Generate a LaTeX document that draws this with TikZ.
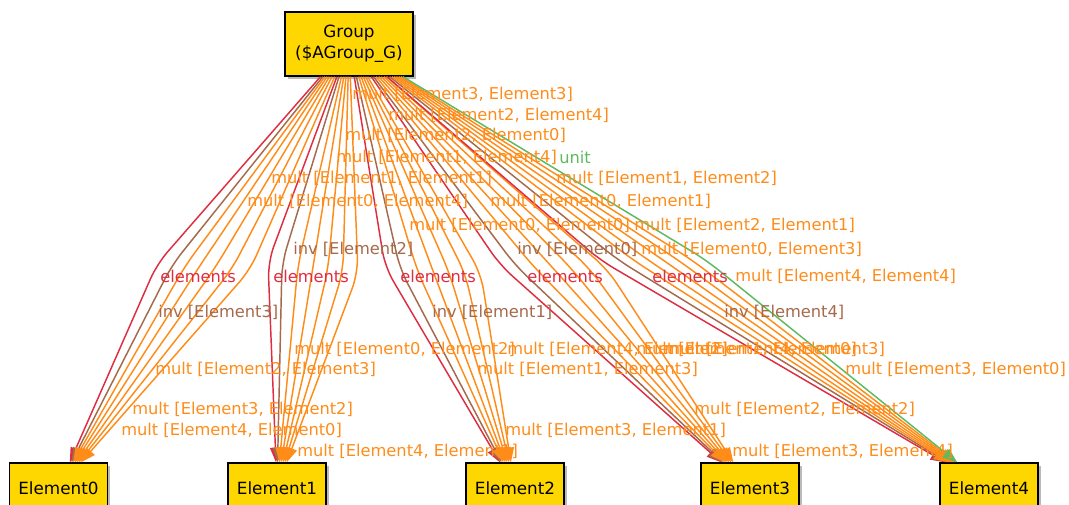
\documentclass[tikz,border=0pt]{standalone}
\usepackage{fontspec}
\setmainfont{DejaVu Sans}
\usetikzlibrary{arrows.meta,shadows}

\definecolor{nodegold}{RGB}{255,215,0}
\definecolor{edgered}{RGB}{222,45,65}
\definecolor{edgebrown}{RGB}{165,105,75}
\definecolor{edgeorange}{RGB}{255,140,25}
\definecolor{edgegreen}{RGB}{95,185,95}

\tikzset{
  box/.style={draw=black, line width=1pt, fill=nodegold, align=center,
    font=\fontsize{12.6}{15.5}\selectfont,
    drop shadow={shadow xshift=2pt, shadow yshift=-2pt, fill=black!45, opacity=0.6}},
  elembox/.style={box, minimum width=73.5pt, minimum height=37.5pt},
  arc/.style={line width=1.1pt, rounded corners=12pt, -{Triangle[length=11pt,width=8pt]}},
  elemarc/.style={arc, draw=edgered, color=edgered},
  invarc/.style={arc, draw=edgebrown, color=edgebrown},
  multarc/.style={arc, draw=edgeorange, color=edgeorange},
  unitarc/.style={arc, draw=edgegreen, color=edgegreen},
  lbl/.style={anchor=west, inner sep=0pt, font=\fontsize{12.2}{14}\selectfont},
  elemlbl/.style={lbl, text=edgered},
  invlbl/.style={lbl, text=edgebrown},
  multlbl/.style={lbl, text=edgeorange},
  unitlbl/.style={lbl, text=edgegreen}
}

\begin{document}
\begin{tikzpicture}[x=0.75pt, y=-0.75pt]
  \useasboundingbox (0,0) rectangle (1069,505);

  \node[box, minimum width=96pt, minimum height=48pt] (G) at (349,44) {Group\\(\$AGroup\_G)};
  \node[elembox] (E0) at (58.5,488) {Element0};
  \node[elembox] (E1) at (277,488) {Element1};
  \node[elembox] (E2) at (515,488) {Element2};
  \node[elembox] (E3) at (750,488) {Element3};
  \node[elembox] (E4) at (989,488) {Element4};

  % Element0
  \draw[elemarc] (G) -- (157,264) -- (E0);
  \draw[invarc] (G) -- (172,265) -- (E0);
  \draw[multarc] (G) -- (185,266) -- (E0);
  \draw[multarc] (G) -- (199,267) -- (E0);
  \draw[multarc] (G) -- (215,268) -- (E0);
  \draw[multarc] (G) -- (232,269) -- (E0);
  \draw[multarc] (G) -- (250,270) -- (E0);

  % Element1
  \draw[elemarc] (G) -- (268,262) -- (E1);
  \draw[invarc] (G) -- (282,263) -- (E1);
  \draw[multarc] (G) -- (298,265) -- (E1);
  \draw[multarc] (G) -- (313,267) -- (E1);
  \draw[multarc] (G) -- (328,269) -- (E1);
  \draw[multarc] (G) -- (343,271) -- (E1);
  \draw[multarc] (G) -- (358,273) -- (E1);

  % Element2
  \draw[elemarc] (G) -- (385,267) -- (E2);
  \draw[invarc] (G) -- (400,269) -- (E2);
  \draw[multarc] (G) -- (417,270) -- (E2);
  \draw[multarc] (G) -- (433,271) -- (E2);
  \draw[multarc] (G) -- (449,272) -- (E2);
  \draw[multarc] (G) -- (465,273) -- (E2);
  \draw[multarc] (G) -- (481,274) -- (E2);

  % Element3
  \draw[elemarc] (G) -- (500,265) -- (E3);
  \draw[invarc] (G) -- (515,265) -- (E3);
  \draw[multarc] (G) -- (533,266) -- (E3);
  \draw[multarc] (G) -- (552,267) -- (E3);
  \draw[multarc] (G) -- (571,268) -- (E3);
  \draw[multarc] (G) -- (590,269) -- (E3);
  \draw[multarc] (G) -- (608,270) -- (E3);

  % Element4
  \draw[elemarc] (G) -- (600,260) -- (E4);
  \draw[invarc] (G) -- (618,260) -- (E4);
  \draw[multarc] (G) -- (633,260) -- (E4);
  \draw[multarc] (G) -- (648,260) -- (E4);
  \draw[multarc] (G) -- (663,260) -- (E4);
  \draw[multarc] (G) -- (678,260) -- (E4);
  \draw[multarc] (G) -- (692,260) -- (E4);
  \draw[unitarc] (G) -- (706,260) -- (E4);

  % labels
  \node[multlbl] (m33) at (352,94) {mult [Element3, Element3]};
  \node[multlbl] (m24) at (388,115) {mult [Element2, Element4]};
  \node[multlbl] (m20) at (345,135) {mult [Element2, Element0]};
  \node[multlbl] (m14) at (336,157) {mult [Element1, Element4]};
  \node[unitlbl] (u) at (559,157) {unit};
  \node[multlbl] (m12) at (556,178) {mult [Element1, Element2]};
  \node[multlbl] (m11) at (271,178) {mult [Element1, Element1]};
  \node[multlbl] (m04) at (247,201) {mult [Element0, Element4]};
  \node[multlbl] (m01) at (490,201) {mult [Element0, Element1]};
  \node[multlbl] (m00) at (409,225) {mult [Element0, Element0]};
  \node[multlbl] (m21) at (634,225) {mult [Element2, Element1]};
  \node[invlbl] (i2) at (293,249) {inv [Element2]};
  \node[invlbl] (i0) at (517,249) {inv [Element0]};
  \node[multlbl] (m03) at (641,249) {mult [Element0, Element3]};
  \node[elemlbl] (el0) at (160,276) {elements};
  \node[elemlbl] (el1) at (273,276) {elements};
  \node[elemlbl] (el2) at (400,276) {elements};
  \node[elemlbl] (el3) at (527,276) {elements};
  \node[elemlbl] (el4) at (652,276) {elements};
  \node[multlbl] (m44) at (735,276) {mult [Element4, Element4]};
  \node[invlbl] (i3) at (158,312) {inv [Element3]};
  \node[invlbl] (i1) at (432,312) {inv [Element1]};
  \node[invlbl] (i4) at (724,312) {inv [Element4]};
  \node[multlbl] (m02) at (294,349) {mult [Element0, Element2]};
  \node[multlbl] (m42) at (507,349) {mult [Element4, Element2]};
  \node[multlbl] (m10) at (636,349) {mult [Element1, Element0]};
  \node[multlbl] (m43) at (664,349) {mult [Element4, Element3]};
  \node[multlbl] (m23) at (155,369) {mult [Element2, Element3]};
  \node[multlbl] (m13) at (477,369) {mult [Element1, Element3]};
  \node[multlbl] (m30) at (845,369) {mult [Element3, Element0]};
  \node[multlbl] (m32) at (132,409) {mult [Element3, Element2]};
  \node[multlbl] (m22) at (694,409) {mult [Element2, Element2]};
  \node[multlbl] (m40) at (121,430) {mult [Element4, Element0]};
  \node[multlbl] (m31) at (505,430) {mult [Element3, Element1]};
  \node[multlbl] (m41) at (297,451) {mult [Element4, Element1]};
  \node[multlbl] (m34) at (732,451) {mult [Element3, Element4]};

\end{tikzpicture}
\end{document}
